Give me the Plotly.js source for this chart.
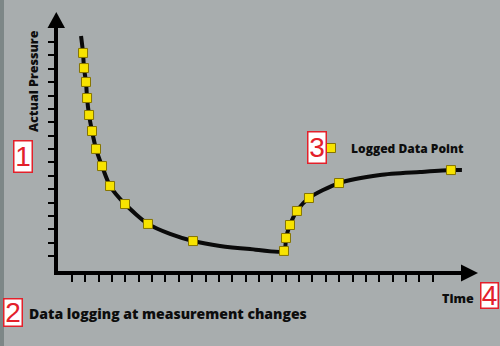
<!DOCTYPE html>
<html>
<head>
<meta charset="utf-8">
<script src="https://cdn.plot.ly/plotly-3.0.1.min.js"></script>
<style>html,body{margin:0;padding:0;background:#a8adae;}#chart{width:500px;height:346px;}</style>
</head>
<body>
<div id="chart"></div>
<script>
// Continuous pressure curve (time in tick units, pressure in tick units)
const curveTime     = [1.68, 1.83, 1.90, 2.05, 2.13, 2.28, 2.50, 2.80, 3.25, 3.85, 4.97, 6.69, 8.34, 10.06, 12.08, 14.33, 16.87, 17.02, 17.32, 17.84, 18.74, 20.99, 24.06, 27.05, 29.37, 30.19];
const curvePressure = [17.46, 16.19, 15.06, 14.02, 12.82, 11.55, 10.35, 9.01, 7.73, 6.24, 4.89, 3.40, 2.65, 2.12, 1.75, 1.53, 1.38, 2.35, 3.32, 4.37, 5.34, 6.46, 7.06, 7.28, 7.43, 7.43];
// Logged data points (logged when measurement changes)
const loggedTime     = [1.83, 1.90, 2.05, 2.13, 2.28, 2.50, 2.80, 3.25, 3.85, 4.97, 6.69, 10.06, 16.87, 17.02, 17.32, 17.84, 18.74, 20.99, 29.37];
const loggedPressure = [16.19, 15.06, 14.02, 12.82, 11.55, 10.35, 9.01, 7.73, 6.24, 4.89, 3.40, 2.12, 1.38, 2.35, 3.32, 4.37, 5.34, 6.46, 7.43];
// Tick marks
const timeTicks = Array.from({length: 28}, (_, i) => i + 1);
const pressureTicks = Array.from({length: 17}, (_, i) => i + 1);
// Texts
const yLabel = "Actual Pressure";
const xLabel = "Time";
const legendLabel = "Logged Data Point";
const caption = "Data logging at measurement changes";
const boxNumbers = ["1", "2", "3", "4"];

const L = 58, T = 27, W = 404, H = 244;
const px = v => (v - L) / W;
const py = v => (T + H - v) / H;

const BG = '#a8adae';
const RED = '#e3202a';
const INK = '#0d0d0d';
const FONT = '"Open Sans", "DejaVu Sans", sans-serif';
const WEIGHT = 800;

const traces = [
  {
    x: curveTime, y: curvePressure, type: 'scatter', mode: 'lines',
    line: {color: '#0a0a0a', width: 4, shape: 'spline', smoothing: 0.7},
    showlegend: false, hoverinfo: 'skip', cliponaxis: false
  },
  {
    x: loggedTime, y: loggedPressure, type: 'scatter', mode: 'markers',
    name: legendLabel,
    marker: {symbol: 'square', size: 9, color: '#f7e300', line: {color: '#857400', width: 1}},
    cliponaxis: false
  }
];

function box(num, cx, cy, w, h) {
  return {
    text: num, xref: 'paper', yref: 'paper', x: px(cx), y: py(cy),
    xanchor: 'center', yanchor: 'middle', showarrow: false,
    font: {family: '"Liberation Sans", Arial, sans-serif', size: 28, color: RED},
    bgcolor: '#ffffff', bordercolor: RED, borderwidth: 1.5, borderpad: 0,
    width: w, height: h
  };
}

const layout = {
  width: 500, height: 346,
  margin: {l: L, r: 500 - L - W, t: T, b: 346 - T - H, pad: 0},
  paper_bgcolor: BG, plot_bgcolor: BG,
  font: {family: FONT, color: INK},
  xaxis: {
    range: [-0.045, 30.195], showgrid: false, zeroline: false,
    showline: true, linecolor: '#000', linewidth: 4,
    ticks: 'outside', tickvals: timeTicks, ticklen: 7, tickwidth: 2, tickcolor: '#000',
    showticklabels: false, fixedrange: true
  },
  yaxis: {
    range: [-0.12, 18.13], showgrid: false, zeroline: false,
    showline: true, linecolor: '#000', linewidth: 4,
    ticks: 'outside', tickvals: pressureTicks, ticklen: 6, tickwidth: 2, tickcolor: '#000',
    showticklabels: false, fixedrange: true
  },
  showlegend: true,
  legend: {
    x: px(311), y: py(148), xanchor: 'left', yanchor: 'middle',
    bgcolor: 'rgba(0,0,0,0)', borderwidth: 0,
    font: {family: FONT, size: 12, color: INK, weight: WEIGHT}
  },
  shapes: [
    {type: 'rect', xref: 'paper', yref: 'paper', x0: px(0), x1: px(4), y0: py(346), y1: py(0),
     fillcolor: '#7d8787', line: {width: 0}, layer: 'below'},
    {type: 'path', xref: 'paper', yref: 'paper',
     path: `M${px(47.5)},${py(28)} L${px(65)},${py(28)} L${px(56.3)},${py(12)} Z`,
     fillcolor: '#000', line: {width: 0}},
    {type: 'path', xref: 'paper', yref: 'paper',
     path: `M${px(461)},${py(264.5)} L${px(461)},${py(281.5)} L${px(478)},${py(273)} Z`,
     fillcolor: '#000', line: {width: 0}}
  ],
  annotations: [
    {text: yLabel, xref: 'paper', yref: 'paper', x: px(33), y: py(81), textangle: -90,
     showarrow: false, xanchor: 'center', yanchor: 'middle',
     font: {family: FONT, size: 12.5, color: INK, weight: WEIGHT}},
    {text: xLabel, xref: 'paper', yref: 'paper', x: px(458), y: py(298),
     showarrow: false, xanchor: 'center', yanchor: 'middle',
     font: {family: FONT, size: 12.5, color: INK, weight: WEIGHT}},
    {text: caption, xref: 'paper', yref: 'paper', x: px(27), y: py(313),
     showarrow: false, xanchor: 'left', yanchor: 'middle',
     font: {family: FONT, size: 14, color: INK, weight: WEIGHT}},
    box(boxNumbers[0], 22.5, 156, 17, 30),
    box(boxNumbers[1], 12.5, 312, 17, 26),
    box(boxNumbers[2], 316.5, 147.5, 17, 30),
    box(boxNumbers[3], 489.5, 295.5, 16, 24)
  ]
};

Plotly.newPlot('chart', traces, layout, {staticPlot: true, displayModeBar: false});
</script>
</body>
</html>
